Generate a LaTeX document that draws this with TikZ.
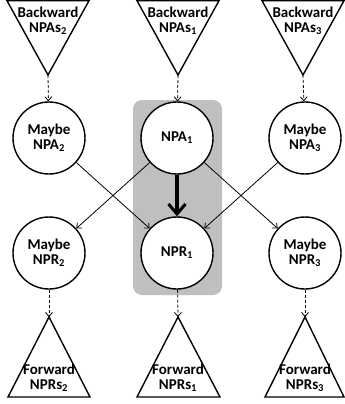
\documentclass[tikz,border=0pt]{standalone}
\usepackage{fontspec}
\setmainfont{Carlito}
\usetikzlibrary{arrows.meta}
\tikzset{
  tri/.style={draw, line width=1.4pt, line join=miter},
  circ/.style={circle, draw, line width=1.4pt, fill=white, minimum size=72pt, inner sep=0pt, align=center, font=\fontsize{15}{15}\selectfont\bfseries},
  lbl/.style={align=center, inner sep=0pt, font=\fontsize{15}{15}\selectfont\bfseries},
  link/.style={line width=0.8pt, -{Straight Barb[length=4pt,width=7pt]}},
  dlink/.style={line width=0.8pt, densely dashed, -{Straight Barb[length=4pt,width=7pt]}},
  strong/.style={line width=3.2pt, -{Straight Barb[length=10pt,width=17pt,line width=3pt]}}
}
\begin{document}
\begin{tikzpicture}[x=1pt, y=-1pt]
  \useasboundingbox (0,0) rectangle (345,404);
  % highlighted pair
  \fill[gray!50, rounded corners=9pt] (133,100) rectangle (222,295);
  % backward triangles
  \draw[tri] (7,0.7) -- (89,0.7) -- (48,75) -- cycle;
  \draw[tri] (137,0.7) -- (219,0.7) -- (178,75) -- cycle;
  \draw[tri] (262,0.7) -- (344,0.7) -- (303,75) -- cycle;
  \coordinate (b2) at (48,75);
  \coordinate (b1) at (178,75);
  \coordinate (b3) at (303,75);
  \node[lbl] (bt2) at (48,21) {Backward\\NPAs\textsubscript{2}};
  \node[lbl] (bt1) at (178,21) {Backward\\NPAs\textsubscript{1}};
  \node[lbl] (bt3) at (303,21) {Backward\\NPAs\textsubscript{3}};
  % forward triangles
  \draw[tri] (8,397) -- (90,397) -- (49,317) -- cycle;
  \draw[tri] (137,397) -- (220,397) -- (178,317) -- cycle;
  \draw[tri] (265,397) -- (344,397) -- (305,317) -- cycle;
  \coordinate (f2) at (49,317);
  \coordinate (f1) at (178,317);
  \coordinate (f3) at (305,317);
  \node[lbl] (ft2) at (49,378) {Forward\\NPRs\textsubscript{2}};
  \node[lbl] (ft1) at (178,378) {Forward\\NPRs\textsubscript{1}};
  \node[lbl] (ft3) at (305,378) {Forward\\NPRs\textsubscript{3}};
  % circles
  \node[circ] (npa2) at (49,138) {Maybe\\NPA\textsubscript{2}};
  \node[circ] (npa1) at (177,138) {NPA\textsubscript{1}};
  \node[circ] (npa3) at (305,138) {Maybe\\NPA\textsubscript{3}};
  \node[circ] (npr2) at (49,253) {Maybe\\NPR\textsubscript{2}};
  \node[circ] (npr1) at (177,253) {NPR\textsubscript{1}};
  \node[circ] (npr3) at (305,253) {Maybe\\NPR\textsubscript{3}};
  % connectors
  \draw[dlink] (b2) -- (npa2);
  \draw[dlink] (b1) -- (npa1);
  \draw[dlink] (b3) -- (npa3);
  \draw[dlink] (npr2) -- (f2);
  \draw[dlink] (npr1) -- (f1);
  \draw[dlink] (npr3) -- (f3);
  \draw[link] (npa2) -- (npr1);
  \draw[link] (npa3) -- (npr1);
  \draw[link] (npa1) -- (npr2);
  \draw[link] (npa1) -- (npr3);
  \draw[strong] (npa1) -- (npr1);
\end{tikzpicture}
\end{document}
